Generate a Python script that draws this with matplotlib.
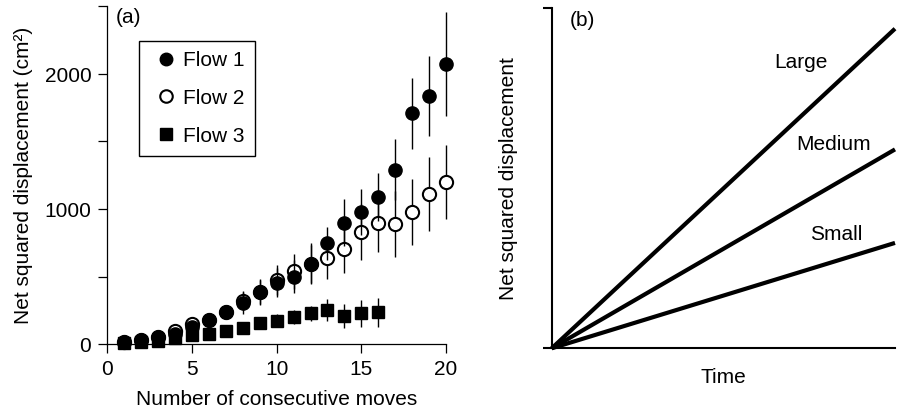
import matplotlib
matplotlib.use("Agg")
import matplotlib.pyplot as plt
from matplotlib.lines import Line2D
import numpy as np

plt.rcParams['font.family'] = ['Liberation Sans', 'DejaVu Sans']
plt.rcParams['font.size'] = 15

# panel (a): mean net squared displacement (cm^2) per number of moves
moves = np.arange(1, 21)
flow1 = [15, 30, 50, 75, 125, 178, 235, 305, 383, 455,
         500, 593, 746, 899, 978, 1091, 1292, 1709, 1839, 2074]
flow1_err = [5, 8, 12, 18, 25, 30, 50, 80, 95, 110,
             125, 140, 124, 173, 173, 178, 227, 265, 296, 385]
flow2 = [15, 30, 55, 95, 145, 180, 235, 320, 385, 475,
         540, 595, 640, 705, 830, 895, 888, 978, 1110, 1200]
flow2_err = [5, 8, 12, 18, 25, 30, 45, 70, 90, 113,
             130, 150, 156, 180, 208, 217, 245, 242, 272, 272]
moves3 = np.arange(1, 17)
flow3 = [5, 12, 25, 42, 67, 74, 96, 116, 153, 173,
         202, 227, 252, 207, 227, 235]
flow3_err = [3, 5, 8, 10, 15, 18, 22, 30, 40, 50,
             52, 58, 80, 87, 102, 108]

# panel (b): schematic lines
time = [0, 1]
nsd_large = [0, 0.94]
nsd_medium = [0, 0.585]
nsd_small = [0, 0.31]

fig = plt.figure(figsize=(8.99, 4.15), dpi=100)
W, H = 899, 415

# --- panel (a)
ax1 = fig.add_axes([107.3 / W, 1 - 344 / H, (446 - 107.3) / W, (344 - 6.5) / H])
ebkw = dict(ecolor='black', elinewidth=1.0, capsize=0, linestyle='none', clip_on=False)
ax1.errorbar(moves, flow2, yerr=flow2_err, fmt='o', ms=9.5, mfc='white', mec='black',
             mew=1.5, zorder=2, **ebkw)
ax1.errorbar(moves, flow1, yerr=flow1_err, fmt='o', ms=9.5, mfc='black', mec='black',
             zorder=3, **ebkw)
ax1.errorbar(moves3, flow3, yerr=flow3_err, fmt='s', ms=8.5, mfc='black', mec='black',
             zorder=4, **ebkw)

ax1.set_xlim(0, 20)
ax1.set_ylim(0, 2500)
ax1.set_xticks([0, 5, 10, 15, 20])
ax1.set_yticks([0, 500, 1000, 1500, 2000, 2500])
ax1.set_yticklabels(['0', '', '1000', '', '2000', ''])
for s in ['top', 'right']:
    ax1.spines[s].set_visible(False)
for s in ['left', 'bottom']:
    ax1.spines[s].set_linewidth(0.9)
ax1.tick_params(direction='out', length=6.5, width=0.9, pad=5)
ax1.set_xlabel('Number of consecutive moves', labelpad=8)
ax1.set_ylabel('Net squared displacement (cm²)', labelpad=8)
ax1.text(0.024, 0.968, '(a)', transform=ax1.transAxes, ha='left', va='center')

handles = [
    Line2D([], [], ls='none', marker='o', ms=9, mfc='black', mec='black'),
    Line2D([], [], ls='none', marker='o', ms=9, mfc='white', mec='black', mew=1.5),
    Line2D([], [], ls='none', marker='s', ms=8.5, mfc='black', mec='black'),
]
leg = ax1.legend(handles, ['Flow 1', 'Flow 2', 'Flow 3'],
                 loc='upper left', bbox_to_anchor=(0.0945, 0.899), borderaxespad=0,
                 fancybox=False, framealpha=1, edgecolor='black', numpoints=1,
                 handlelength=1.6, handletextpad=0.0, labelspacing=0.9, borderpad=0.5)
leg.get_frame().set_linewidth(1.0)

# --- panel (b)
ax2 = fig.add_axes([551.7 / W, 1 - 348.3 / H, (895 - 551.7) / W, (348.3 - 8.3) / H])
for y in [nsd_large, nsd_medium, nsd_small]:
    ax2.plot(time, y, color='black', lw=3.0, solid_capstyle='butt', clip_on=False)
ax2.set_xlim(0, 1)
ax2.set_ylim(0, 1)
ax2.set_xticks([])
ax2.set_yticks([0, 1])
ax2.set_yticklabels([])
for s in ['top', 'right']:
    ax2.spines[s].set_visible(False)
for s in ['left', 'bottom']:
    ax2.spines[s].set_linewidth(1.5)
ax2.tick_params(axis='y', direction='out', length=6.5, width=1.5)
ax2.set_xlabel('Time', labelpad=14)
ax2.set_ylabel('Net squared displacement', labelpad=14)
ax2.text(0.09, 0.965, '(b)', transform=ax2.transAxes, ha='center', va='center')
ax2.text(0.725, 0.84, 'Large', transform=ax2.transAxes, ha='center', va='center')
ax2.text(0.82, 0.6, 'Medium', transform=ax2.transAxes, ha='center', va='center')
ax2.text(0.83, 0.335, 'Small', transform=ax2.transAxes, ha='center', va='center')

fig.savefig('out.png', dpi=100)
